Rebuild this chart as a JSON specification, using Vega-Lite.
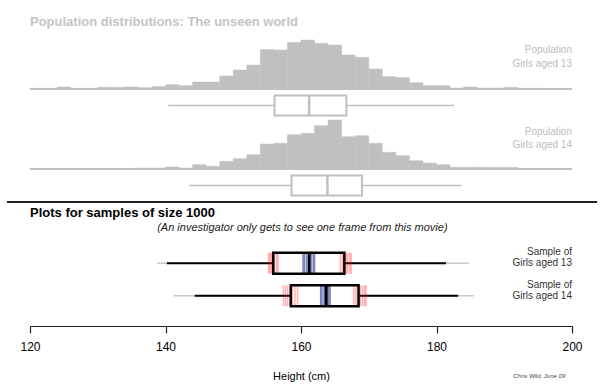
{
  "$schema": "https://vega.github.io/schema/vega-lite/v6.json",
  "autosize": {"type": "pad"},
  "padding": {"left": 5, "top": 0, "right": 5, "bottom": 0},
  "spacing": 0,
  "bounds": "flush",
  "config": {"view": {"stroke": null}, "font": "Liberation Sans"},
  "datasets": {
    "hist13": [
      {"b0":120,"b1":122,"h":0.7},{"b0":122,"b1":124,"h":0.7},{"b0":124,"b1":126,"h":2},{"b0":126,"b1":128,"h":0.7},
      {"b0":128,"b1":130,"h":0.7},{"b0":130,"b1":132,"h":1.7},{"b0":132,"b1":134,"h":1.7},{"b0":134,"b1":136,"h":2},
      {"b0":136,"b1":138,"h":1.3},{"b0":138,"b1":140,"h":2.5},{"b0":140,"b1":142,"h":4.3},{"b0":142,"b1":144,"h":3.3},
      {"b0":144,"b1":146,"h":7},{"b0":146,"b1":148,"h":7},{"b0":148,"b1":150,"h":13},{"b0":150,"b1":152,"h":19},
      {"b0":152,"b1":154,"h":24},{"b0":154,"b1":156,"h":39.5},{"b0":156,"b1":158,"h":39},{"b0":158,"b1":160,"h":46.5},
      {"b0":160,"b1":162,"h":49},{"b0":162,"b1":164,"h":45.7},{"b0":164,"b1":166,"h":44},{"b0":166,"b1":168,"h":34},
      {"b0":168,"b1":170,"h":31.7},{"b0":170,"b1":172,"h":20},{"b0":172,"b1":174,"h":12.3},{"b0":174,"b1":176,"h":11.3},
      {"b0":176,"b1":178,"h":6.3},{"b0":178,"b1":180,"h":3.3},{"b0":180,"b1":182,"h":3.3},{"b0":182,"b1":184,"h":1},
      {"b0":184,"b1":186,"h":2},{"b0":186,"b1":188,"h":1},{"b0":188,"b1":190,"h":1},{"b0":190,"b1":192,"h":1.7},
      {"b0":192,"b1":194,"h":0.7},{"b0":194,"b1":196,"h":0.7},{"b0":196,"b1":198,"h":0.5},{"b0":198,"b1":200,"h":0.5}
    ],
    "hist14": [
      {"b0":120,"b1":122,"h":0.2},{"b0":122,"b1":124,"h":0.2},{"b0":124,"b1":126,"h":0.2},{"b0":126,"b1":128,"h":0.2},
      {"b0":128,"b1":130,"h":0.2},{"b0":130,"b1":132,"h":0.2},{"b0":132,"b1":134,"h":0.3},{"b0":134,"b1":136,"h":0.6},
      {"b0":136,"b1":138,"h":1},{"b0":138,"b1":140,"h":1},{"b0":140,"b1":142,"h":2},{"b0":142,"b1":144,"h":1},
      {"b0":144,"b1":146,"h":4.3},{"b0":146,"b1":148,"h":2.7},{"b0":148,"b1":150,"h":7.7},{"b0":150,"b1":152,"h":10.3},
      {"b0":152,"b1":154,"h":14.3},{"b0":154,"b1":156,"h":25},{"b0":156,"b1":158,"h":25.7},{"b0":158,"b1":160,"h":34.3},
      {"b0":160,"b1":162,"h":35.7},{"b0":162,"b1":164,"h":43.3},{"b0":164,"b1":166,"h":49},{"b0":166,"b1":168,"h":32.3},
      {"b0":168,"b1":170,"h":33.3},{"b0":170,"b1":172,"h":25.7},{"b0":172,"b1":174,"h":16.7},{"b0":174,"b1":176,"h":13.3},
      {"b0":176,"b1":178,"h":8.3},{"b0":178,"b1":180,"h":6},{"b0":180,"b1":182,"h":4.3},{"b0":182,"b1":184,"h":1.7},
      {"b0":184,"b1":186,"h":1.7},{"b0":186,"b1":188,"h":1.7},{"b0":188,"b1":190,"h":1.5},{"b0":190,"b1":192,"h":1.5},
      {"b0":192,"b1":194,"h":0.5},{"b0":194,"b1":196,"h":0.5},{"b0":196,"b1":198,"h":0.3},{"b0":198,"b1":200,"h":0.3}
    ],
    "pop13": [{"age":"13","lo":140.4,"q1":156.1,"med":161.2,"q3":166.7,"hi":182.6}],
    "pop14": [{"age":"14","lo":143.5,"q1":158.6,"med":163.9,"q3":169.0,"hi":183.7}],
    "samples": [
      {"group":"13","label":"Girls aged 13","flo":138.7,"lo":140.2,"q1":155.9,"med":161.2,"q3":166.4,"hi":181.4,"fhi":184.8},
      {"group":"14","label":"Girls aged 14","flo":141.2,"lo":144.3,"q1":158.5,"med":163.7,"q3":168.5,"hi":183.2,"fhi":185.5}
    ],
    "traces": [
      {"group":"13","kind":"quartile","v":155.2},{"group":"13","kind":"quartile","v":155.4},{"group":"13","kind":"quartile","v":155.6},{"group":"13","kind":"quartile","v":155.8},
      {"group":"13","kind":"quartile","v":156.1},{"group":"13","kind":"quartile","v":156.4},{"group":"13","kind":"quartile","v":156.6},
      {"group":"13","kind":"quartile","v":165.8},{"group":"13","kind":"quartile","v":166.1},{"group":"13","kind":"quartile","v":166.4},{"group":"13","kind":"quartile","v":166.7},
      {"group":"13","kind":"quartile","v":166.9},{"group":"13","kind":"quartile","v":167.2},{"group":"13","kind":"quartile","v":167.4},
      {"group":"13","kind":"median","v":160.3},{"group":"13","kind":"median","v":160.5},{"group":"13","kind":"median","v":160.8},{"group":"13","kind":"median","v":161.2},
      {"group":"13","kind":"median","v":161.5},{"group":"13","kind":"median","v":161.8},{"group":"13","kind":"median","v":162.0},
      {"group":"14","kind":"quartile","v":157.4},{"group":"14","kind":"quartile","v":157.7},{"group":"14","kind":"quartile","v":158.0},{"group":"14","kind":"quartile","v":158.3},
      {"group":"14","kind":"quartile","v":158.7},{"group":"14","kind":"quartile","v":159.1},{"group":"14","kind":"quartile","v":159.5},
      {"group":"14","kind":"quartile","v":167.8},{"group":"14","kind":"quartile","v":168.1},{"group":"14","kind":"quartile","v":168.4},{"group":"14","kind":"quartile","v":168.8},
      {"group":"14","kind":"quartile","v":169.1},{"group":"14","kind":"quartile","v":169.4},{"group":"14","kind":"quartile","v":169.6},
      {"group":"14","kind":"median","v":162.9},{"group":"14","kind":"median","v":163.1},{"group":"14","kind":"median","v":163.4},{"group":"14","kind":"median","v":163.7},
      {"group":"14","kind":"median","v":163.9},{"group":"14","kind":"median","v":164.1},{"group":"14","kind":"median","v":164.3}
    ]
  },
  "vconcat": [
    {
      "width": 542, "height": 89,
      "layer": [
        {"data": {"values": [{}]},
         "mark": {"type": "rule", "color": "#c0c0c0", "strokeWidth": 2},
         "encoding": {"x": {"datum": 120, "type": "quantitative", "scale": {"domain": [120, 200], "nice": false, "zero": false}, "axis": null},
                      "x2": {"datum": 200}, "y": {"datum": 0, "type": "quantitative", "scale": {"domain": [0, 89], "nice": false}, "axis": null}}},
        {"data": {"name": "hist13"},
         "mark": {"type": "rect", "color": "#c0c0c0", "stroke": "#c0c0c0", "strokeWidth": 0.5},
         "encoding": {"x": {"field": "b0", "type": "quantitative"}, "x2": {"field": "b1"}, "y": {"field": "h", "type": "quantitative"}, "y2": {"datum": 0}}},
        {"data": {"values": [{}]},
         "mark": {"type": "text", "text": "Population distributions: The unseen world", "align": "left", "baseline": "middle", "fontSize": 13, "fontWeight": "bold", "color": "#c4c4c4"},
         "encoding": {"x": {"datum": 120}, "y": {"datum": 67}}},
        {"data": {"values": [{}]},
         "mark": {"type": "text", "text": "Population", "align": "right", "baseline": "middle", "fontSize": 10, "color": "#bdbdbd"},
         "encoding": {"x": {"datum": 200}, "y": {"datum": 39}}},
        {"data": {"values": [{}]},
         "mark": {"type": "text", "text": "Girls aged 13", "align": "right", "baseline": "middle", "fontSize": 10, "color": "#bdbdbd"},
         "encoding": {"x": {"datum": 200}, "y": {"datum": 25}}}
      ]
    },
    {
      "width": 542, "height": 33,
      "data": {"name": "pop13"},
      "encoding": {"y": {"field": "age", "type": "nominal", "scale": {"type": "point", "padding": 0.5}, "axis": null}},
      "layer": [
        {"mark": {"type": "rule", "color": "#c0c0c0", "strokeWidth": 1.5},
         "encoding": {"x": {"field": "lo", "type": "quantitative", "scale": {"domain": [120, 200], "nice": false, "zero": false}, "axis": null}, "x2": {"field": "hi"}}},
        {"mark": {"type": "bar", "size": 20, "fill": "white", "stroke": "#c0c0c0", "strokeWidth": 2},
         "encoding": {"x": {"field": "q1", "type": "quantitative"}, "x2": {"field": "q3"}}},
        {"mark": {"type": "tick", "size": 20, "thickness": 2.5, "color": "#c0c0c0", "opacity": 1},
         "encoding": {"x": {"field": "med", "type": "quantitative"}}}
      ]
    },
    {
      "width": 542, "height": 47,
      "layer": [
        {"data": {"values": [{}]},
         "mark": {"type": "rule", "color": "#c0c0c0", "strokeWidth": 2},
         "encoding": {"x": {"datum": 120, "type": "quantitative", "scale": {"domain": [120, 200], "nice": false, "zero": false}, "axis": null},
                      "x2": {"datum": 200}, "y": {"datum": 0, "type": "quantitative", "scale": {"domain": [0, 47], "nice": false}, "axis": null}}},
        {"data": {"name": "hist14"},
         "mark": {"type": "rect", "color": "#c0c0c0", "stroke": "#c0c0c0", "strokeWidth": 0.5},
         "encoding": {"x": {"field": "b0", "type": "quantitative"}, "x2": {"field": "b1"}, "y": {"field": "h", "type": "quantitative"}, "y2": {"datum": 0}}},
        {"data": {"values": [{}]},
         "mark": {"type": "text", "text": "Population", "align": "right", "baseline": "middle", "fontSize": 10, "color": "#bdbdbd"},
         "encoding": {"x": {"datum": 200}, "y": {"datum": 37.5}}},
        {"data": {"values": [{}]},
         "mark": {"type": "text", "text": "Girls aged 14", "align": "right", "baseline": "middle", "fontSize": 10, "color": "#bdbdbd"},
         "encoding": {"x": {"datum": 200}, "y": {"datum": 24}}}
      ]
    },
    {
      "width": 542, "height": 33,
      "data": {"name": "pop14"},
      "encoding": {"y": {"field": "age", "type": "nominal", "scale": {"type": "point", "padding": 0.5}, "axis": null}},
      "layer": [
        {"mark": {"type": "rule", "color": "#c0c0c0", "strokeWidth": 1.5},
         "encoding": {"x": {"field": "lo", "type": "quantitative", "scale": {"domain": [120, 200], "nice": false, "zero": false}, "axis": null}, "x2": {"field": "hi"}}},
        {"mark": {"type": "bar", "size": 20, "fill": "white", "stroke": "#c0c0c0", "strokeWidth": 2},
         "encoding": {"x": {"field": "q1", "type": "quantitative"}, "x2": {"field": "q3"}}},
        {"mark": {"type": "tick", "size": 20, "thickness": 2.5, "color": "#c0c0c0", "opacity": 1},
         "encoding": {"x": {"field": "med", "type": "quantitative"}}}
      ]
    },
    {
      "width": 542, "height": 45,
      "layer": [
        {"data": {"values": [{}]},
         "mark": {"type": "rule", "color": "#222222", "strokeWidth": 2},
         "encoding": {"x": {"datum": 116.6, "type": "quantitative", "scale": {"domain": [120, 200], "nice": false, "zero": false}, "axis": null},
                      "x2": {"datum": 203.7}, "y": {"datum": 0, "type": "quantitative", "scale": {"domain": [0, 45], "nice": false, "reverse": true}, "axis": null}}},
        {"data": {"values": [{}]},
         "mark": {"type": "text", "text": "Plots for samples of size 1000", "align": "left", "baseline": "middle", "fontSize": 13, "fontWeight": "bold", "color": "#000000"},
         "encoding": {"x": {"datum": 120}, "y": {"datum": 11}}},
        {"data": {"values": [{}]},
         "mark": {"type": "text", "text": "(An investigator only gets to see one frame from this movie)", "align": "center", "baseline": "middle", "fontSize": 11, "fontStyle": "italic", "color": "#222222"},
         "encoding": {"x": {"datum": 160.2}, "y": {"datum": 25.5}}}
      ]
    },
    {
      "width": 542, "height": 65,
      "encoding": {"y": {"field": "group", "type": "nominal", "scale": {"type": "point", "padding": 0.5}, "axis": null}},
      "layer": [
        {"data": {"name": "samples"},
         "mark": {"type": "rule", "color": "#c8c8c8", "strokeWidth": 1.5},
         "encoding": {"x": {"field": "flo", "type": "quantitative",
                            "scale": {"domain": [120, 200], "nice": false, "zero": false},
                            "axis": {"orient": "bottom", "offset": 14, "values": [120, 140, 160, 180, 200], "labelFlush": false, "labelOverlap": false, "domainColor": "#222222", "domainWidth": 1.2,
                                     "tickColor": "#222222", "tickSize": 7, "tickWidth": 1.2, "labelFontSize": 12, "labelColor": "#000000", "labelPadding": 8,
                                     "grid": false, "title": "Height (cm)", "titleFontSize": 11, "titleFontWeight": "normal", "titleColor": "#000000", "titlePadding": 18}},
                      "x2": {"field": "fhi"}}},
        {"data": {"name": "samples"},
         "mark": {"type": "rule", "color": "#000000", "strokeWidth": 2},
         "encoding": {"x": {"field": "lo", "type": "quantitative"}, "x2": {"field": "hi"}}},
        {"data": {"name": "samples"},
         "mark": {"type": "bar", "size": 21, "fill": "white", "strokeWidth": 0},
         "encoding": {"x": {"field": "q1", "type": "quantitative"}, "x2": {"field": "q3"}}},
        {"data": {"name": "traces"},
         "transform": [{"filter": "datum.kind == 'quartile'"}],
         "mark": {"type": "tick", "size": 21, "thickness": 1.5, "color": "#ff0000", "opacity": 0.3},
         "encoding": {"x": {"field": "v", "type": "quantitative"}}},
        {"data": {"name": "traces"},
         "transform": [{"filter": "datum.kind == 'median'"}],
         "mark": {"type": "tick", "size": 21, "thickness": 1.5, "color": "#23339a", "opacity": 0.6},
         "encoding": {"x": {"field": "v", "type": "quantitative"}}},
        {"data": {"name": "samples"},
         "mark": {"type": "bar", "size": 21, "fill": "white", "fillOpacity": 0, "stroke": "#000000", "strokeWidth": 2.5},
         "encoding": {"x": {"field": "q1", "type": "quantitative"}, "x2": {"field": "q3"}}},
        {"data": {"name": "samples"},
         "mark": {"type": "tick", "size": 21, "thickness": 3, "color": "#000000", "opacity": 1},
         "encoding": {"x": {"field": "med", "type": "quantitative"}}},
        {"data": {"name": "samples"},
         "mark": {"type": "text", "text": "Sample of", "align": "right", "baseline": "middle", "fontSize": 10, "color": "#333333", "dy": -11},
         "encoding": {"x": {"datum": 200}}},
        {"data": {"name": "samples"},
         "mark": {"type": "text", "align": "right", "baseline": "middle", "fontSize": 10, "color": "#333333", "dy": 0},
         "encoding": {"x": {"datum": 200}, "text": {"field": "label", "type": "nominal"}}}
      ]
    },
    {
      "width": 542, "height": 75,
      "layer": [
        {"data": {"values": [{}]},
         "mark": {"type": "text", "text": "Chris Wild, June 09", "align": "right", "baseline": "middle", "fontSize": 6, "fontStyle": "italic", "color": "#444444"},
         "encoding": {"x": {"datum": 199, "type": "quantitative", "scale": {"domain": [120, 200], "nice": false, "zero": false}, "axis": null},
                      "y": {"datum": 64, "type": "quantitative", "scale": {"domain": [0, 75], "nice": false, "reverse": true}, "axis": null}}}
      ]
    }
  ]
}
